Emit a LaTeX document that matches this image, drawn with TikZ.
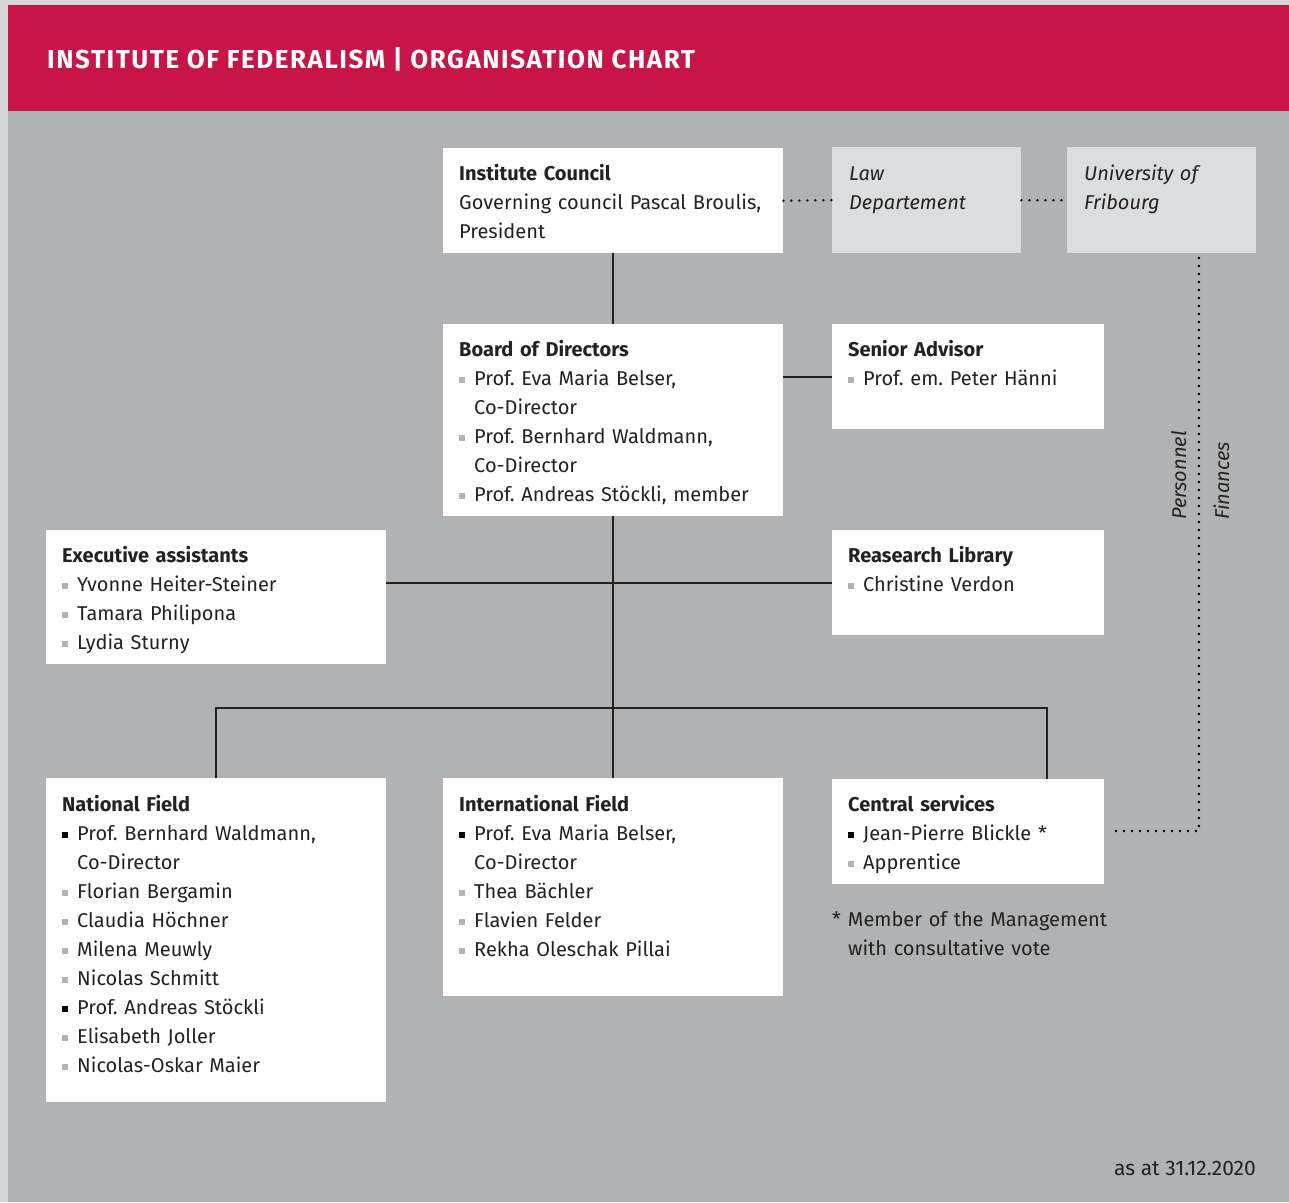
\documentclass[tikz,border=0pt]{standalone}
\usepackage{fontspec}
\setmainfont{Fira Sans}
\frenchspacing
\definecolor{hdrred}{HTML}{C81446}
\definecolor{bodygray}{HTML}{B1B2B4}
\definecolor{outergray}{HTML}{D5D6D8}
\definecolor{lightbox}{HTML}{DCDDDF}
\definecolor{ink}{HTML}{222222}
\definecolor{bulgray}{HTML}{B1B2B4}
\newcommand{\bit}[2][bulgray]{\makebox[15pt][l]{\textcolor{#1}{\rule[2pt]{6pt}{6pt}}}#2}
\newcommand{\ind}[1]{\hspace*{15pt}#1}
\begin{document}
\begin{tikzpicture}[x=1pt,y=-1pt,
  orgbox/.style={fill=white, draw=none, anchor=north west, inner sep=0pt},
  extbox/.style={fill=lightbox, draw=none, anchor=north west, inner sep=0pt},
  txt/.style={anchor=base west, inner sep=0pt, align=left, text=ink,
    font=\fontsize{20}{29}\selectfont\frenchspacing},
  conn/.style={draw=ink, line width=1.6pt},
  dots/.style={draw=black, line width=2.6pt, line cap=round, dash pattern=on 0pt off 8pt},
  side/.style={anchor=base west, inner sep=0pt, rotate=90, text=ink,
    font=\fontsize{20}{24}\selectfont\itshape}]
\useasboundingbox (0,0) rectangle (1289,1202);
\fill[outergray] (0,0) rectangle (1289,1202);
\fill[hdrred] (8,5) rectangle (1289,111);
\fill[bodygray] (8,111) rectangle (1289,1202);
\node[anchor=base west, inner sep=0pt, text=white,
  font=\fontsize{26}{30}\selectfont\bfseries\addfontfeatures{LetterSpace=6}]
  (title) at (47,68) {INSTITUTE OF FEDERALISM | ORGANISATION CHART};

% boxes
\node[orgbox, minimum width=340pt, minimum height=105pt] (council) at (443,148) {};
\node[extbox, minimum width=189pt, minimum height=106pt] (law) at (832,147) {};
\node[extbox, minimum width=189pt, minimum height=106pt] (univ) at (1067,147) {};
\node[orgbox, minimum width=340pt, minimum height=192pt] (board) at (443,324) {};
\node[orgbox, minimum width=272pt, minimum height=105pt] (senior) at (832,324) {};
\node[orgbox, minimum width=340pt, minimum height=134pt] (exec) at (46,530) {};
\node[orgbox, minimum width=272pt, minimum height=105pt] (library) at (832,530) {};
\node[orgbox, minimum width=340pt, minimum height=324pt] (national) at (46,778) {};
\node[orgbox, minimum width=340pt, minimum height=218pt] (intl) at (443,778) {};
\node[orgbox, minimum width=272pt, minimum height=105pt] (central) at (832,779) {};

% texts
\node[txt, text width=320pt] (tcouncil) at (459,180)
  {\textbf{Institute Council}\\Governing council Pascal Broulis,\\President};
\node[txt, text width=170pt, font=\fontsize{20}{29}\selectfont\itshape] (tlaw) at (849,180)
  {Law\\Departement};
\node[txt, text width=170pt, font=\fontsize{20}{29}\selectfont\itshape] (tuniv) at (1084,180)
  {University of\\Fribourg};
\node[txt, text width=320pt] (tboard) at (459,356)
  {\textbf{Board of Directors}\\\bit{Prof. Eva Maria Belser,}\\\ind{Co-Director}\\\bit{Prof. Bernhard Waldmann,}\\\ind{Co-Director}\\\bit{Prof. Andreas Stöckli, member}};
\node[txt, text width=260pt] (tsenior) at (848,356)
  {\textbf{Senior Advisor}\\\bit{Prof. em. Peter Hänni}};
\node[txt, text width=320pt] (texec) at (62,562)
  {\textbf{Executive assistants}\\\bit{Yvonne Heiter-Steiner}\\\bit{Tamara Philipona}\\\bit{Lydia Sturny}};
\node[txt, text width=260pt] (tlibrary) at (848,562)
  {\textbf{Reasearch Library}\\\bit{Christine Verdon}};
\node[txt, text width=320pt] (tnational) at (62,811)
  {\textbf{National Field}\\\bit[black]{Prof. Bernhard Waldmann,}\\\ind{Co-Director}\\\bit{Florian Bergamin}\\\bit{Claudia Höchner}\\\bit{Milena Meuwly}\\\bit{Nicolas Schmitt}\\\bit[black]{Prof. Andreas Stöckli}\\\bit{Elisabeth Joller}\\\bit{Nicolas-Oskar Maier}};
\node[txt, text width=320pt] (tintl) at (459,811)
  {\textbf{International Field}\\\bit[black]{Prof. Eva Maria Belser,}\\\ind{Co-Director}\\\bit{Thea Bächler}\\\bit{Flavien Felder}\\\bit{Rekha Oleschak Pillai}};
\node[txt, text width=260pt] (tcentral) at (848,811)
  {\textbf{Central services}\\\bit[black]{Jean-Pierre Blickle *}\\\bit{Apprentice}};
\node[txt, text width=320pt] (note) at (832,926)
  {*\hspace{7pt}Member of the Management\\\hspace*{16pt}with consultative vote};
\node[anchor=base east, inner sep=0pt, text=ink, font=\fontsize{21}{24}\selectfont]
  (date) at (1256,1175) {as at 31.12.2020};
\node[side] (personnel) at (1186,520) {Personnel};
\node[side] (finances) at (1229,520) {Finances};

% connectors
\draw[conn] (council.south) -- (board.north);
\draw[conn] (senior.west) -- (senior.west -| board.east);
\draw[conn] (board.south) -- (intl.north);
\draw[conn] (library.west) -- (library.west -| exec.east);
\coordinate (cjoin) at (1047,779);
\draw[conn] (national.north) -- ++(0,-70) -| (cjoin);

% dotted links
\coordinate (uout) at (1199,258);
\coordinate (cin) at (1110,831);
\draw[dots] (council.east) -- (law.west);
\draw[dots] (law.east) -- (univ.west);
\draw[dots] (uout) |- (cin);
\end{tikzpicture}
\end{document}
